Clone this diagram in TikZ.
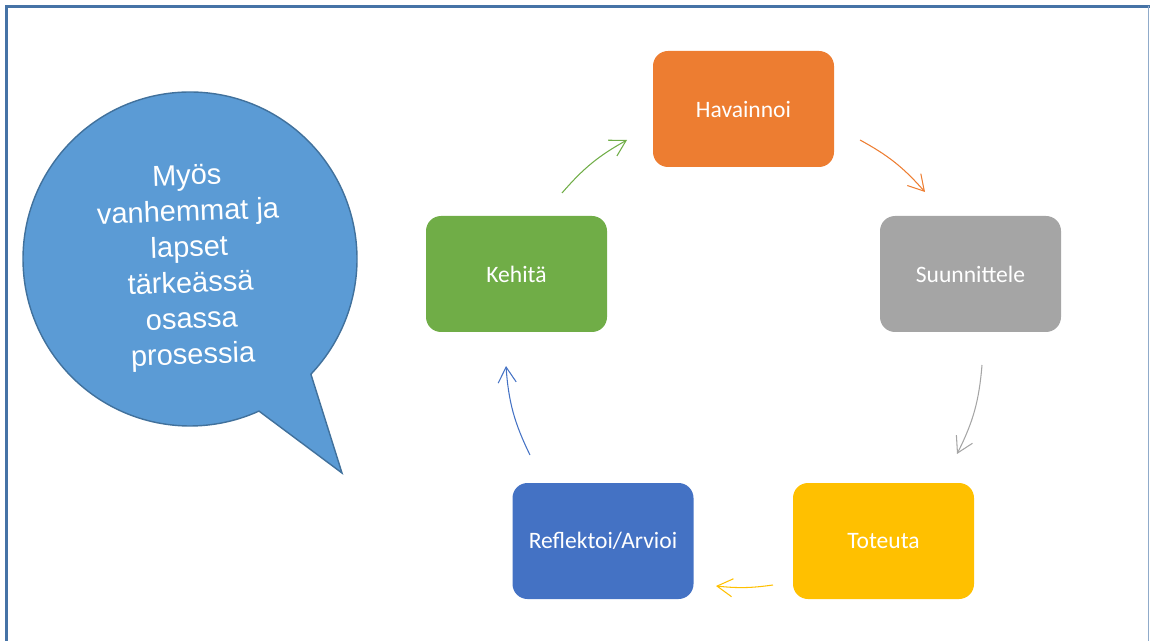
\documentclass[tikz,border=0pt]{standalone}
\usepackage{fontspec}
\setmainfont{Carlito}
\newfontfamily\bubblefont{Liberation Sans}
\usetikzlibrary{arrows.meta,shapes.callouts}

\definecolor{cOrange}{HTML}{ED7D31}
\definecolor{cGrey}{HTML}{A5A5A5}
\definecolor{cGold}{HTML}{FFC000}
\definecolor{cBlue}{HTML}{4472C4}
\definecolor{cGreen}{HTML}{70AD47}
\definecolor{cBubble}{HTML}{5B9BD5}
\definecolor{cBubbleLine}{HTML}{41719C}
\definecolor{cFrame}{HTML}{4673A6}

\tikzset{
  phase/.style={rounded corners=0.3cm, minimum width=3.62cm, minimum height=2.32cm,
    text=white, font=\fontsize{13.4}{16}\selectfont},
  cycarrow/.style={-{Straight Barb[length=3.1mm,width=3.6mm]}, line width=0.6pt},
}

\begin{document}
\begin{tikzpicture}
\useasboundingbox (0,0) rectangle (23,-12.82);

% frame
\draw[cFrame, line width=1.3pt] (0.13,-12.82) -- (0.13,-0.13) -- (23,-0.13);
\draw[cFrame!60, line width=0.6pt] (22.97,-0.13) -- (22.97,-12.82);

% speech bubble
\coordinate (tip) at (6.84,-9.46);
\node[ellipse callout, draw=cBubbleLine, fill=cBubble, line width=0.8pt,
  minimum width=6.68cm, minimum height=6.68cm,
  callout absolute pointer={(tip)}, callout pointer arc=22,
  text=white, font=\bubblefont\fontsize{16.5}{20.4}\selectfont] (bubble) at (3.80,-5.18)
  {\raisebox{-0.17cm}[\height][\depth]{\rotatebox{2}{\begin{tabular}{@{}c@{}}Myös\\vanhemmat ja\\lapset\\tärkeässä\\osassa\\prosessia\end{tabular}}}};

% cycle
\node[phase, fill=cOrange] (hav) at (14.87,-2.18) {Havainnoi};
\node[phase, fill=cGrey] (suu) at (19.41,-5.48) {Suunnittele};
\node[phase, fill=cGold] (tot) at (17.67,-10.82) {Toteuta};
\node[phase, fill=cBlue] (ref) at (12.06,-10.82) {Reflektoi/Arvioi};
\node[phase, fill=cGreen] (keh) at (10.33,-5.48) {Kehitä};

\coordinate (keh-out) at (11.24,-3.86);
\coordinate (hav-in) at (12.54,-2.80);
\coordinate (hav-out) at (17.20,-2.80);
\coordinate (suu-in) at (18.50,-3.84);
\coordinate (suu-out) at (19.64,-7.30);
\coordinate (tot-in) at (19.14,-9.08);
\coordinate (tot-out) at (15.46,-11.70);
\coordinate (ref-in) at (14.32,-11.72);
\coordinate (ref-out) at (10.60,-9.10);
\coordinate (keh-in) at (10.12,-7.32);

\draw[cycarrow, cOrange] (hav-out) to[bend left=10] (suu-in);
\draw[cycarrow, cGrey] (suu-out) to[bend left=11] (tot-in);
\draw[cycarrow, cGold] (tot-out) to[bend left=7] (ref-in);
\draw[cycarrow, cBlue] (ref-out) to[bend left=11] (keh-in);
\draw[cycarrow, cGreen] (keh-out) to[bend left=10] (hav-in);
\end{tikzpicture}
\end{document}
